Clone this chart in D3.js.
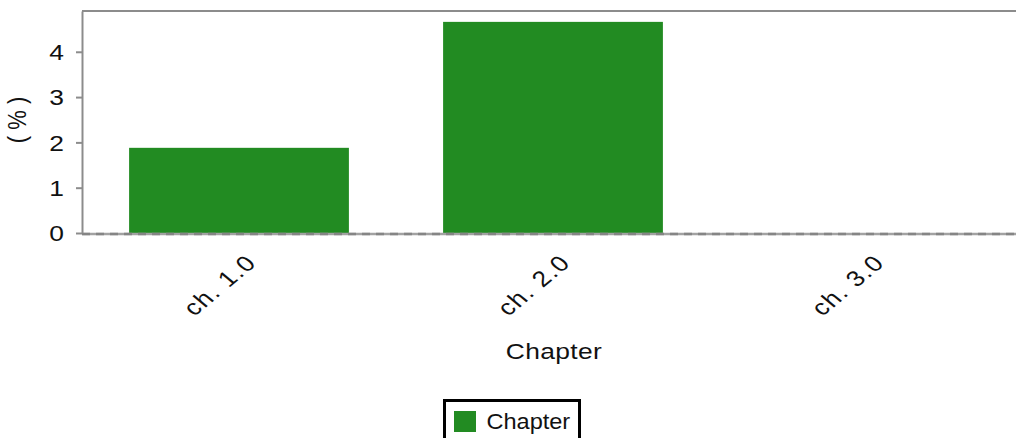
<!DOCTYPE html>
<html>
<head>
<meta charset="utf-8">
<script src="https://cdn.jsdelivr.net/npm/d3@7"></script>
<style>
  html, body { margin: 0; padding: 0; background: #fff; }
  svg { display: block; font-family: "Liberation Sans", Arial, sans-serif; }
</style>
</head>
<body>
<svg id="chart" width="1016" height="438"></svg>
<script>
const categories = ["ch. 1.0", "ch. 2.0", "ch. 3.0"];
const values = [1.88, 4.66, 0];
const yTicks = [0, 1, 2, 3, 4];
const seriesName = "Chapter";
const xTitle = "Chapter";
const yTitle = "( % )";

(function () {
const S = 1.2;           // horizontal stretch of text
const FS = 22;
const color = "#228B22";
const axisColor = "#8c8c8c";

const svg = d3.select("#chart");
const mLeft = 82, mTop = 11, mBottom = 233, mRight = 1016;

const x = d3.scaleBand().domain(categories).range([mLeft, 1024]).paddingInner(0.3).paddingOuter(0.15);
const y = d3.scaleLinear().domain([0, 4.9]).range([mBottom, mTop]);

// top border
svg.append("line").attr("x1", mLeft).attr("x2", mRight).attr("y1", mTop).attr("y2", mTop)
  .attr("stroke", axisColor).attr("stroke-width", 2);

// bars
svg.append("g").selectAll("rect").data(values).join("rect")
  .attr("x", (d, i) => x(categories[i]))
  .attr("width", x.bandwidth())
  .attr("y", d => y(d))
  .attr("height", d => mBottom - y(d))
  .attr("fill", color);

// y axis
const gy = svg.append("g").attr("transform", `translate(${mLeft},0)`)
  .call(d3.axisLeft(y).tickValues(yTicks).tickSize(6).tickSizeOuter(0).tickFormat(d3.format("d")));
gy.select(".domain").attr("stroke", axisColor).attr("stroke-width", 2);
gy.selectAll(".tick line").attr("stroke", axisColor).attr("stroke-width", 2);
gy.selectAll(".tick text")
  .attr("x", null).attr("dy", "0.35em")
  .attr("transform", `translate(-18,0) scale(${S},1)`)
  .attr("font-size", FS).attr("fill", "#111")
  .attr("font-family", "Liberation Sans, Arial, sans-serif");

// x axis
const gx = svg.append("g").attr("transform", `translate(0,${mBottom})`)
  .call(d3.axisBottom(x).tickSize(0).tickSizeOuter(0));
gx.select(".domain").attr("stroke", "#a2a2a2").attr("stroke-width", 2.5).attr("d", `M${mLeft},1H${mRight}`);
gx.append("path").attr("d", `M${mLeft},1H${mRight}`).attr("stroke", "#858585")
  .attr("stroke-width", 2.5).attr("stroke-dasharray", "8,6").attr("fill", "none");
gx.selectAll(".tick text")
  .attr("y", null).attr("dy", null)
  .attr("text-anchor", "end")
  .attr("transform", `translate(19,31) scale(${S},1) rotate(-45)`)
  .attr("font-size", FS).attr("fill", "#111").attr("letter-spacing", 1.3)
  .attr("font-family", "Liberation Sans, Arial, sans-serif");

// x title
svg.append("text").attr("text-anchor", "middle")
  .attr("transform", `translate(554,359) scale(${S},1)`)
  .attr("font-size", FS).attr("fill", "#111").attr("letter-spacing", 0.3).text(xTitle);

// y title
svg.append("text").attr("text-anchor", "middle")
  .attr("transform", `translate(26,120) scale(${S},1) rotate(-90)`)
  .attr("font-size", FS).attr("fill", "#111").text(yTitle);

// legend
const lg = svg.append("g");
lg.append("rect").attr("x", 444.5).attr("y", 400.5).attr("width", 135).attr("height", 60)
  .attr("fill", "#fff").attr("stroke", "#000").attr("stroke-width", 3);
lg.append("rect").attr("x", 454).attr("y", 411).attr("width", 22).attr("height", 21).attr("fill", color);
lg.append("text").attr("transform", `translate(486.5,428.5) scale(1.07,1)`)
  .attr("font-size", FS).attr("fill", "#111").text(seriesName);
})();
</script>
</body>
</html>
